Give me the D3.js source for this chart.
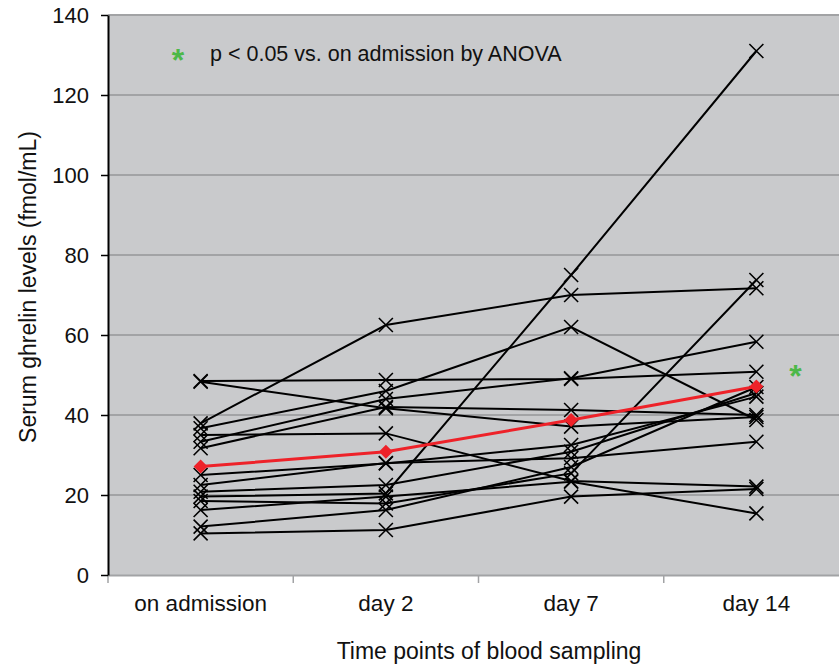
<!DOCTYPE html>
<html>
<head>
<meta charset="utf-8">
<script src="https://cdn.jsdelivr.net/npm/d3@7"></script>
<style>
  html, body { margin: 0; padding: 0; background: #ffffff; }
  svg { display: block; }
  text { font-family: "Liberation Sans", Arial, sans-serif; fill: #111; }
</style>
</head>
<body>
<svg id="chart" width="839" height="665"></svg>
<script>
// ---- data ----
const categories = ["on admission", "day 2", "day 7", "day 14"];
const yTicks = [0, 20, 40, 60, 80, 100, 120, 140];
const patient01 = [48.5, 48.75, 49.0, 50.8];
const patient02 = [48.3, 41.7, 37.1, 39.5];
const patient03 = [37.9, 62.5, 70.0, 71.7];
const patient04 = [36.7, 46.0, 62.0, 38.75];
const patient05 = [35.0, 35.4, 23.5, 22.1];
const patient06 = [33.3, 44.0, 49.2, 58.3];
const patient07 = [31.7, 42.0, 41.25, 40.0];
const patient08 = [25.0, 27.9, 32.5, 44.6];
const patient09 = [22.5, 28.0, 29.2, 33.3];
const patient10 = [20.8, 22.5, 30.8, 45.5];
const patient11 = [19.6, 20.4, 75.0, 131.0];
const patient12 = [18.5, 17.9, 25.4, 73.75];
const patient13 = [16.25, 19.6, 23.3, 15.4];
const patient14 = [12.1, 16.25, 27.0, 47.0];
const patient15 = [10.4, 11.25, 19.6, 21.5];
const meanValues = [27.1, 30.8, 38.75, 47.1];
const patients = [patient01, patient02, patient03, patient04, patient05, patient06, patient07,
  patient08, patient09, patient10, patient11, patient12, patient13, patient14, patient15];
const legendText = "p < 0.05 vs. on admission by ANOVA";
const significantIndex = 3;

(function () {
const svg = d3.select("#chart");
const pL = 108, pR = 849, pT = 15, pB = 575;

const x = d3.scaleBand().domain(categories).range([pL, pR]);
const cx = c => x(c) + x.bandwidth() / 2;
const y = d3.scaleLinear().domain([0, 140]).range([pB, pT]);

// plot background
svg.append("rect").attr("x", pL).attr("y", pT)
  .attr("width", pR - pL).attr("height", pB - pT).attr("fill", "#c9cacc");

// gridlines
svg.append("g").selectAll("line").data(yTicks.filter(d => d > 0)).join("line")
  .attr("x1", pL).attr("x2", pR)
  .attr("y1", d => y(d)).attr("y2", d => y(d))
  .attr("stroke", "#a2a3a5").attr("stroke-width", 2);

// x axis (gray)
const xAxis = d3.axisBottom(x).tickSize(0).tickFormat(d => d);
const gx = svg.append("g").attr("transform", `translate(0,${pB})`).call(xAxis);
gx.select(".domain").remove();
gx.selectAll("text").attr("dy", null).attr("y", 36).style("font-size", "22.5px");
svg.append("line").attr("x1", pL).attr("x2", pR).attr("y1", pB + 0.5).attr("y2", pB + 0.5)
  .attr("stroke", "#a2a3a5").attr("stroke-width", 2);
const bandEdges = categories.map(c => x(c));
svg.append("g").selectAll("line").data(bandEdges).join("line")
  .attr("x1", d => d).attr("x2", d => d).attr("y1", pB).attr("y2", pB + 8)
  .attr("stroke", "#a2a3a5").attr("stroke-width", 1.5);

// y axis (black)
const yAxis = d3.axisLeft(y).tickValues(yTicks).tickSize(7).tickPadding(12).tickSizeOuter(0);
const gy = svg.append("g").attr("transform", `translate(${pL},0)`).call(yAxis);
gy.select(".domain").attr("stroke", "#000").attr("stroke-width", 2);
gy.selectAll(".tick line").attr("stroke", "#000").attr("stroke-width", 1.5);
gy.selectAll("text").style("font-size", "22px").attr("fill", "#111");

// axis titles
svg.append("text").attr("x", 489).attr("y", 659).attr("text-anchor", "middle")
  .style("font-size", "23px").text("Time points of blood sampling");
svg.append("text").attr("transform", `translate(36,287) rotate(-90)`)
  .attr("text-anchor", "middle").style("font-size", "23px").text("Serum ghrelin levels (fmol/mL)");

// patient lines
const line = d3.line().x((d, i) => cx(categories[i])).y(d => y(d));
const gp = svg.append("g");
gp.selectAll("path.ln").data(patients).join("path").attr("class", "ln")
  .attr("d", line).attr("fill", "none").attr("stroke", "#000").attr("stroke-width", 2);

// X markers
const pts = [];
patients.forEach(p => p.forEach((v, i) => pts.push([cx(categories[i]), y(v)])));
const s = 7;
gp.selectAll("path.mk").data(pts).join("path").attr("class", "mk")
  .attr("d", d => `M${d[0]-s},${d[1]-s}L${d[0]+s},${d[1]+s}M${d[0]-s},${d[1]+s}L${d[0]+s},${d[1]-s}`)
  .attr("stroke", "#000").attr("stroke-width", 1.6).attr("fill", "none");

// mean line
svg.append("path").datum(meanValues).attr("d", line)
  .attr("fill", "none").attr("stroke", "#ee2229").attr("stroke-width", 3);
svg.append("g").selectAll("path").data(meanValues).join("path")
  .attr("transform", (d, i) => `translate(${cx(categories[i])},${y(d)})`)
  .attr("d", "M0,-7L7,0L0,7L-7,0Z").attr("fill", "#ee2229");

// legend
svg.append("text").attr("x", 178).attr("y", 71).attr("text-anchor", "middle")
  .style("font-size", "32px").style("font-weight", "bold").style("fill", "#4db848").text("*");
svg.append("text").attr("x", 210).attr("y", 61).style("font-size", "21.5px").text(legendText);

// significance mark next to day 14
svg.append("text").attr("x", cx(categories[significantIndex]) + 39).attr("y", 387).attr("text-anchor", "middle")
  .style("font-size", "32px").style("font-weight", "bold").style("fill", "#4db848").text("*");
})();
</script>
</body>
</html>
